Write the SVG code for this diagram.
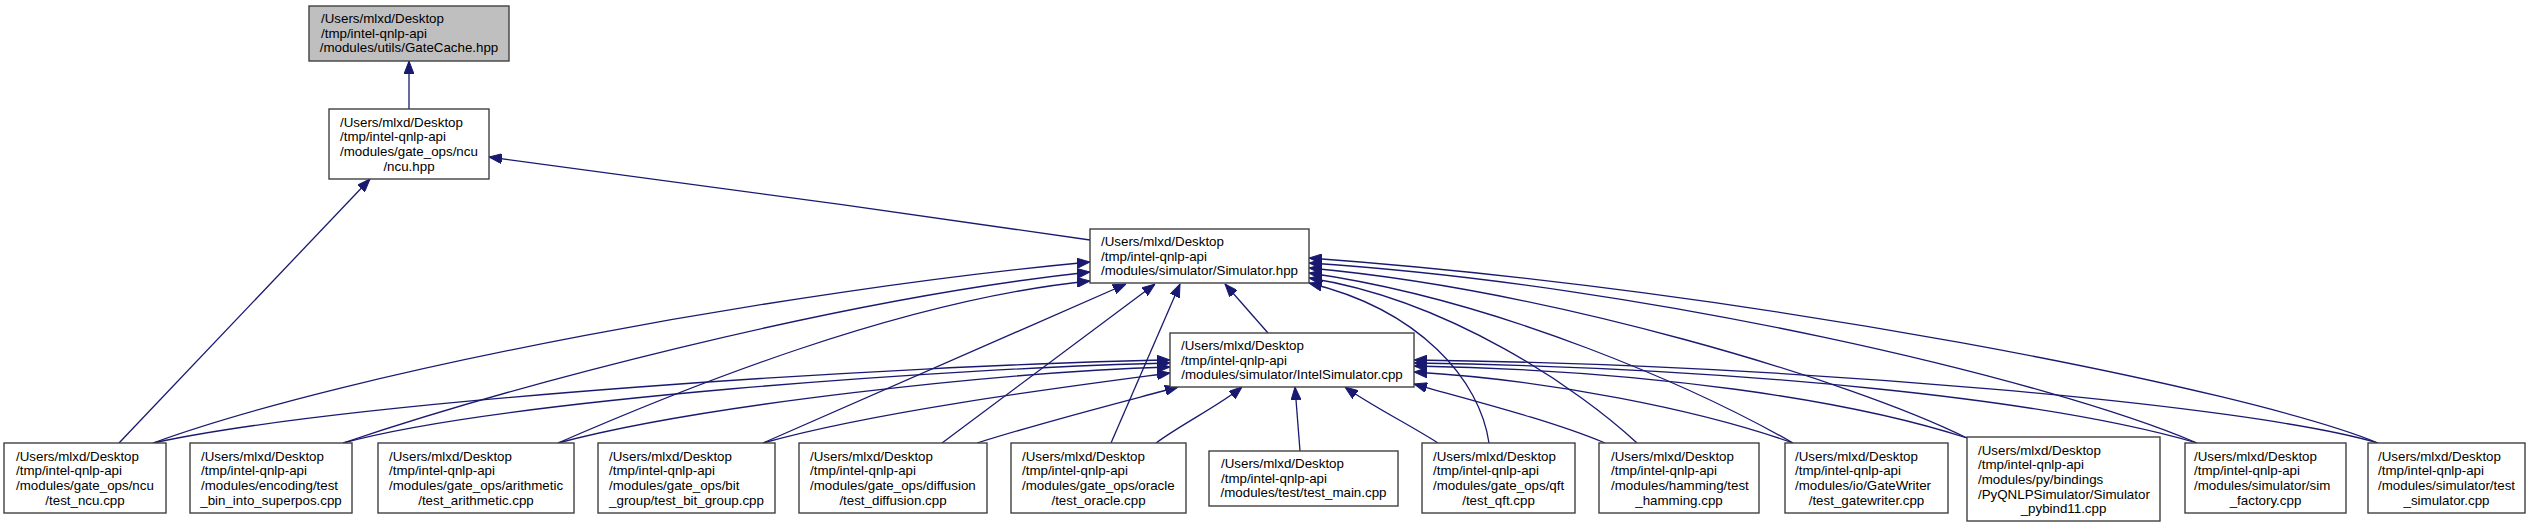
<svg xmlns="http://www.w3.org/2000/svg" width="2531" height="527" viewBox="0 0 2531 527">
<style>
.box{fill:#ffffff;stroke:#404040;stroke-width:1.4}
.hl{fill:#bfbfbf}
text{font-family:"Liberation Sans",Arial,sans-serif;font-size:13.33px;fill:#000000}
.c{text-anchor:middle}
.e{fill:none;stroke:#191970;stroke-width:1.3;marker-end:url(#ah)}
</style>
<defs>
<marker id="ah" viewBox="0 0 13 10" refX="13" refY="5" markerWidth="13" markerHeight="10" markerUnits="userSpaceOnUse" orient="auto">
<path d="M0,0 L13,5 L0,10 z" fill="#191970" stroke="#191970" stroke-width="1"/>
</marker>
</defs>
<rect width="2531" height="527" fill="#ffffff"/>
<g id="edges">
<path class="e" d="M409,109 L409,61"/>
<path class="e" d="M1090,240 C900,212 650,178 489,157"/>
<path class="e" d="M119,443 L370,179"/>
<path class="e" d="M1268,333 L1225,284"/>
<path class="e" d="M153,443 C353,370 790,290 1090,262"/>
<path class="e" d="M343,443 C500,390 830,300 1090,272"/>
<path class="e" d="M558,443 C680,390 900,300 1090,281"/>
<path class="e" d="M763,443 L1126,284"/>
<path class="e" d="M942,443 L1155,284"/>
<path class="e" d="M1111,443 L1180,284"/>
<path class="e" d="M153,443 C353,400 900,365 1170,360"/>
<path class="e" d="M343,443 C500,400 950,368 1170,363"/>
<path class="e" d="M558,443 C700,405 1000,372 1170,367"/>
<path class="e" d="M763,443 C880,410 1080,385 1170,373"/>
<path class="e" d="M977,443 C1050,420 1130,400 1178,387"/>
<path class="e" d="M1156,443 C1180,425 1220,405 1242,387"/>
<path class="e" d="M1300,451 L1295,387"/>
<path class="e" d="M1438,443 C1410,425 1370,405 1345,387"/>
<path class="e" d="M1489,443 C1480,380 1420,310 1309,283"/>
<path class="e" d="M1637,443 C1580,390 1450,300 1309,278"/>
<path class="e" d="M1793,443 C1700,390 1500,300 1309,273"/>
<path class="e" d="M1967,438 C1850,380 1550,290 1309,268"/>
<path class="e" d="M2197,443 C2050,380 1650,285 1309,263"/>
<path class="e" d="M2378,443 C2250,390 1750,290 1309,258"/>
<path class="e" d="M1605,443 C1550,420 1470,400 1414,384"/>
<path class="e" d="M1793,443 C1700,410 1550,380 1414,372"/>
<path class="e" d="M1967,438 C1850,400 1650,370 1414,366"/>
<path class="e" d="M2197,443 C2050,400 1750,368 1414,363"/>
<path class="e" d="M2378,443 C2250,405 1800,365 1414,360"/>
</g>
<g id="n_gatecache">
<rect class="box hl" x="309" y="6" width="200" height="55"/>
<text x="321" y="23">/Users/mlxd/Desktop</text>
<text x="321" y="38">/tmp/intel-qnlp-api</text>
<text x="409" y="52" class="c">/modules/utils/GateCache.hpp</text>
</g>
<g id="n_ncu_hpp">
<rect class="box" x="329" y="109" width="160" height="70"/>
<text x="340" y="126.5">/Users/mlxd/Desktop</text>
<text x="340" y="141.2">/tmp/intel-qnlp-api</text>
<text x="340" y="155.8">/modules/gate_ops/ncu</text>
<text x="409" y="170.5" class="c">/ncu.hpp</text>
</g>
<g id="n_simulator_hpp">
<rect class="box" x="1090" y="229" width="219" height="54"/>
<text x="1101" y="246">/Users/mlxd/Desktop</text>
<text x="1101" y="260.7">/tmp/intel-qnlp-api</text>
<text x="1199.5" y="275.3" class="c">/modules/simulator/Simulator.hpp</text>
</g>
<g id="n_intelsimulator">
<rect class="box" x="1170" y="333" width="244" height="54"/>
<text x="1181" y="350">/Users/mlxd/Desktop</text>
<text x="1181" y="364.7">/tmp/intel-qnlp-api</text>
<text x="1292" y="379.3" class="c">/modules/simulator/IntelSimulator.cpp</text>
</g>
<g id="n_test_ncu">
<rect class="box" x="4" y="443" width="162" height="70"/>
<text x="16" y="460.5">/Users/mlxd/Desktop</text>
<text x="16" y="475.2">/tmp/intel-qnlp-api</text>
<text x="16" y="489.8">/modules/gate_ops/ncu</text>
<text x="85" y="504.5" class="c">/test_ncu.cpp</text>
</g>
<g id="n_test_bin">
<rect class="box" x="190" y="443" width="162" height="70"/>
<text x="201" y="460.5">/Users/mlxd/Desktop</text>
<text x="201" y="475.2">/tmp/intel-qnlp-api</text>
<text x="201" y="489.8">/modules/encoding/test</text>
<text x="271" y="504.5" class="c">_bin_into_superpos.cpp</text>
</g>
<g id="n_test_arith">
<rect class="box" x="378" y="443" width="196" height="70"/>
<text x="389" y="460.5">/Users/mlxd/Desktop</text>
<text x="389" y="475.2">/tmp/intel-qnlp-api</text>
<text x="389" y="489.8">/modules/gate_ops/arithmetic</text>
<text x="476" y="504.5" class="c">/test_arithmetic.cpp</text>
</g>
<g id="n_test_bit_group">
<rect class="box" x="598" y="443" width="177" height="70"/>
<text x="609" y="460.5">/Users/mlxd/Desktop</text>
<text x="609" y="475.2">/tmp/intel-qnlp-api</text>
<text x="609" y="489.8">/modules/gate_ops/bit</text>
<text x="686.5" y="504.5" class="c">_group/test_bit_group.cpp</text>
</g>
<g id="n_test_diffusion">
<rect class="box" x="799" y="443" width="188" height="70"/>
<text x="810" y="460.5">/Users/mlxd/Desktop</text>
<text x="810" y="475.2">/tmp/intel-qnlp-api</text>
<text x="810" y="489.8">/modules/gate_ops/diffusion</text>
<text x="893" y="504.5" class="c">/test_diffusion.cpp</text>
</g>
<g id="n_test_oracle">
<rect class="box" x="1011" y="443" width="175" height="70"/>
<text x="1022" y="460.5">/Users/mlxd/Desktop</text>
<text x="1022" y="475.2">/tmp/intel-qnlp-api</text>
<text x="1022" y="489.8">/modules/gate_ops/oracle</text>
<text x="1098.5" y="504.5" class="c">/test_oracle.cpp</text>
</g>
<g id="n_test_main">
<rect class="box" x="1209" y="451" width="189" height="55"/>
<text x="1221" y="468">/Users/mlxd/Desktop</text>
<text x="1221" y="482.7">/tmp/intel-qnlp-api</text>
<text x="1303.5" y="497.3" class="c">/modules/test/test_main.cpp</text>
</g>
<g id="n_test_qft">
<rect class="box" x="1422" y="443" width="153" height="70"/>
<text x="1433" y="460.5">/Users/mlxd/Desktop</text>
<text x="1433" y="475.2">/tmp/intel-qnlp-api</text>
<text x="1433" y="489.8">/modules/gate_ops/qft</text>
<text x="1498.5" y="504.5" class="c">/test_qft.cpp</text>
</g>
<g id="n_test_hamming">
<rect class="box" x="1599" y="443" width="160" height="70"/>
<text x="1611" y="460.5">/Users/mlxd/Desktop</text>
<text x="1611" y="475.2">/tmp/intel-qnlp-api</text>
<text x="1611" y="489.8">/modules/hamming/test</text>
<text x="1679" y="504.5" class="c">_hamming.cpp</text>
</g>
<g id="n_test_gatewriter">
<rect class="box" x="1785" y="443" width="163" height="70"/>
<text x="1795" y="460.5">/Users/mlxd/Desktop</text>
<text x="1795" y="475.2">/tmp/intel-qnlp-api</text>
<text x="1795" y="489.8">/modules/io/GateWriter</text>
<text x="1866.5" y="504.5" class="c">/test_gatewriter.cpp</text>
</g>
<g id="n_pybind11">
<rect class="box" x="1967" y="437" width="193" height="84"/>
<text x="1978" y="454.5">/Users/mlxd/Desktop</text>
<text x="1978" y="469.2">/tmp/intel-qnlp-api</text>
<text x="1978" y="483.8">/modules/py/bindings</text>
<text x="1978" y="498.5">/PyQNLPSimulator/Simulator</text>
<text x="2063.5" y="513.2" class="c">_pybind11.cpp</text>
</g>
<g id="n_sim_factory">
<rect class="box" x="2185" y="443" width="161" height="70"/>
<text x="2194" y="460.5">/Users/mlxd/Desktop</text>
<text x="2194" y="475.2">/tmp/intel-qnlp-api</text>
<text x="2194" y="489.8">/modules/simulator/sim</text>
<text x="2265.5" y="504.5" class="c">_factory.cpp</text>
</g>
<g id="n_test_simulator">
<rect class="box" x="2368" y="443" width="157" height="70"/>
<text x="2378" y="460.5">/Users/mlxd/Desktop</text>
<text x="2378" y="475.2">/tmp/intel-qnlp-api</text>
<text x="2378" y="489.8">/modules/simulator/test</text>
<text x="2446.5" y="504.5" class="c">_simulator.cpp</text>
</g>
</svg>
